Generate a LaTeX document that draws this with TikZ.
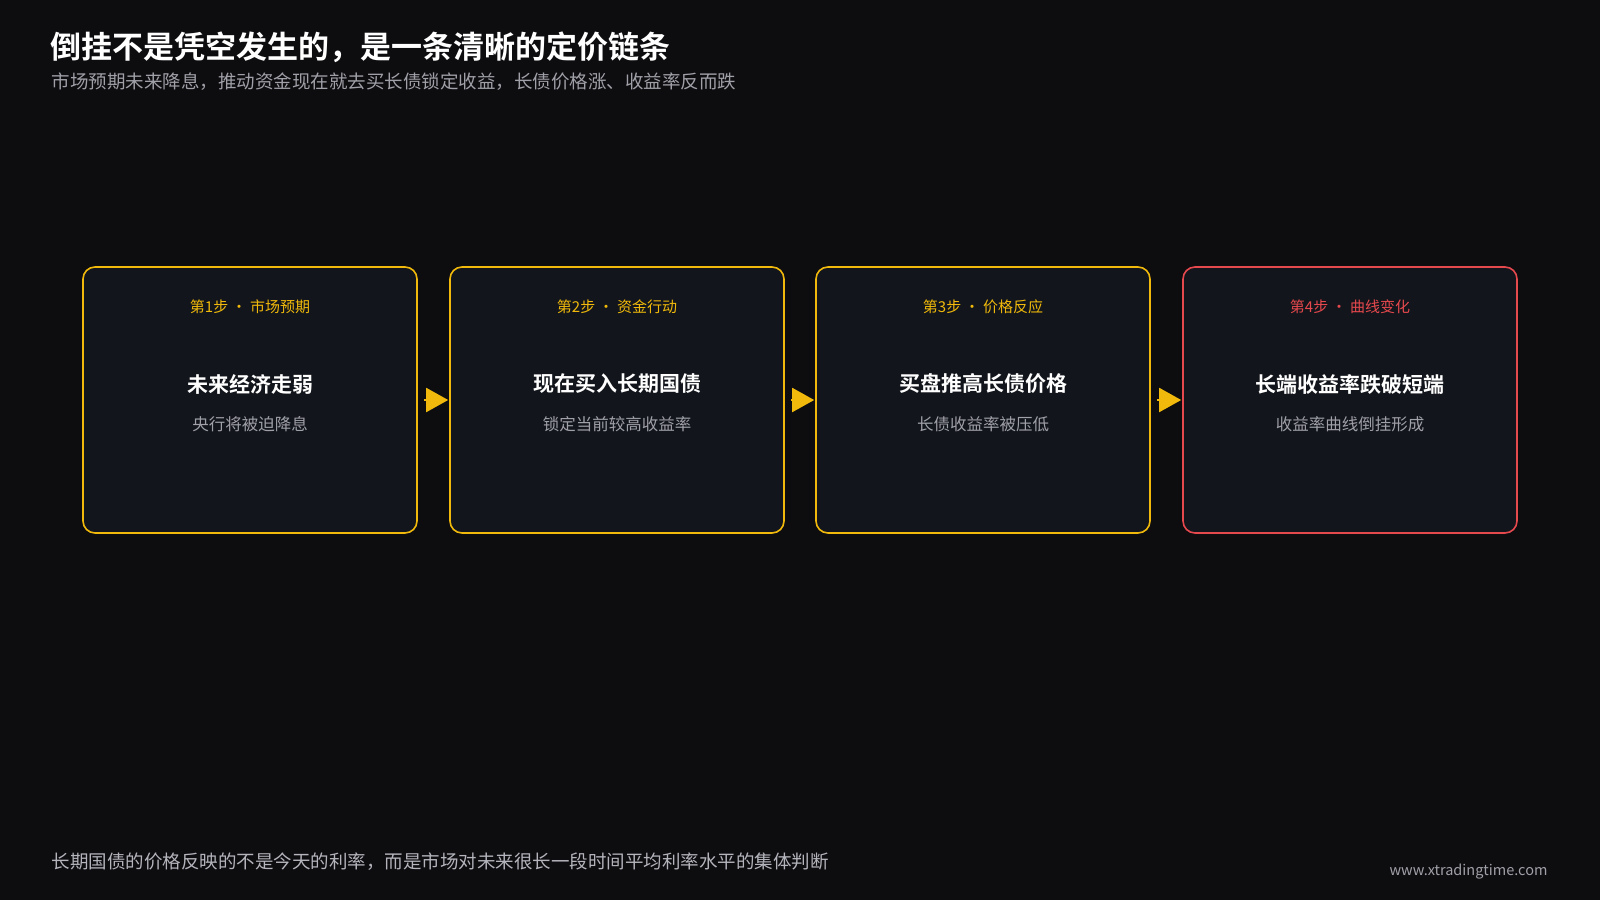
\documentclass[tikz,border=0pt]{standalone}
\usepackage{fontspec}
\setmainfont{Noto Sans CJK SC}
\newfontfamily\cjkbold{Noto Sans CJK SC Bold}
\usetikzlibrary{positioning,arrows.meta}
\definecolor{bgdark}{HTML}{0D0D10}
\definecolor{cardbg}{HTML}{12151B}
\definecolor{stepgold}{HTML}{F0B90B}
\definecolor{stepred}{HTML}{E5484D}
\definecolor{subgray}{HTML}{A0A0A8}
\definecolor{footgray}{HTML}{B4B4BC}
\newcommand{\fs}[1]{\fontsize{#1}{#1}\selectfont}
\begin{document}
\begin{tikzpicture}[x=1pt,y=-1pt,
    card/.style={rectangle, draw=stepgold, line width=1.6pt, fill=cardbg, rounded corners=12pt, minimum width=334pt, minimum height=266pt},
    redcard/.style={card, draw=stepred},
    steplbl/.style={text=stepgold, font=\fs{15}},
    headlbl/.style={text=white, font=\cjkbold\fs{21}},
    sublbl/.style={text=subgray, font=\fs{16.5}},
    flow/.style={-{Triangle[length=22pt,width=24pt]}, stepgold, line width=2pt, shorten >=1pt, shorten <=6pt}
]
\fill[bgdark] (0,0) rectangle (1600,900);
\useasboundingbox (0,0) rectangle (1600,900);

% header
\node[anchor=west, text=white, font=\cjkbold\fs{31}] (title) at (47,47) {倒挂不是凭空发生的，是一条清晰的定价链条};
\node[anchor=west, text=subgray, font=\fs{18.5}] (subtitle) at (48,82) {市场预期未来降息，推动资金现在就去买长债锁定收益，长债价格涨、收益率反而跌};

% cards
\node[card] (s1) at (250,400) {};
\node[card] (s2) at (617,400) {};
\node[card] (s3) at (983,400) {};
\node[redcard] (s4) at (1350,400) {};

\foreach \n/\a/\b/\c in {s1/第1步 · 市场预期/未来经济走弱/央行将被迫降息,
                          s2/第2步 · 资金行动/现在买入长期国债/锁定当前较高收益率,
                          s3/第3步 · 价格反应/买盘推高长债价格/长债收益率被压低} {
  \node[steplbl] (\n-step) at ([yshift=93pt]\n.center) {\a};
  \node[headlbl] (\n-head) at ([yshift=16pt]\n.center) {\b};
  \node[sublbl] (\n-sub) at ([yshift=-24pt]\n.center) {\c};
}
\node[steplbl, text=stepred] (s4-step) at ([yshift=93pt]s4.center) {第4步 · 曲线变化};
\node[headlbl] (s4-head) at ([yshift=16pt]s4.center) {长端收益率跌破短端};
\node[sublbl] (s4-sub) at ([yshift=-24pt]s4.center) {收益率曲线倒挂形成};

% arrows
\draw[flow] (s1.east) -- (s2.west);
\draw[flow] (s2.east) -- (s3.west);
\draw[flow] (s3.east) -- (s4.west);

% footer
\node[anchor=west, text=footgray, font=\fs{18.5}] (note) at (48,862) {长期国债的价格反映的不是今天的利率，而是市场对未来很长一段时间平均利率水平的集体判断};
\node[anchor=east, text=subgray, font=\fs{14.5}] (url) at (1551,872) {www.xtradingtime.com};
\end{tikzpicture}
\end{document}
